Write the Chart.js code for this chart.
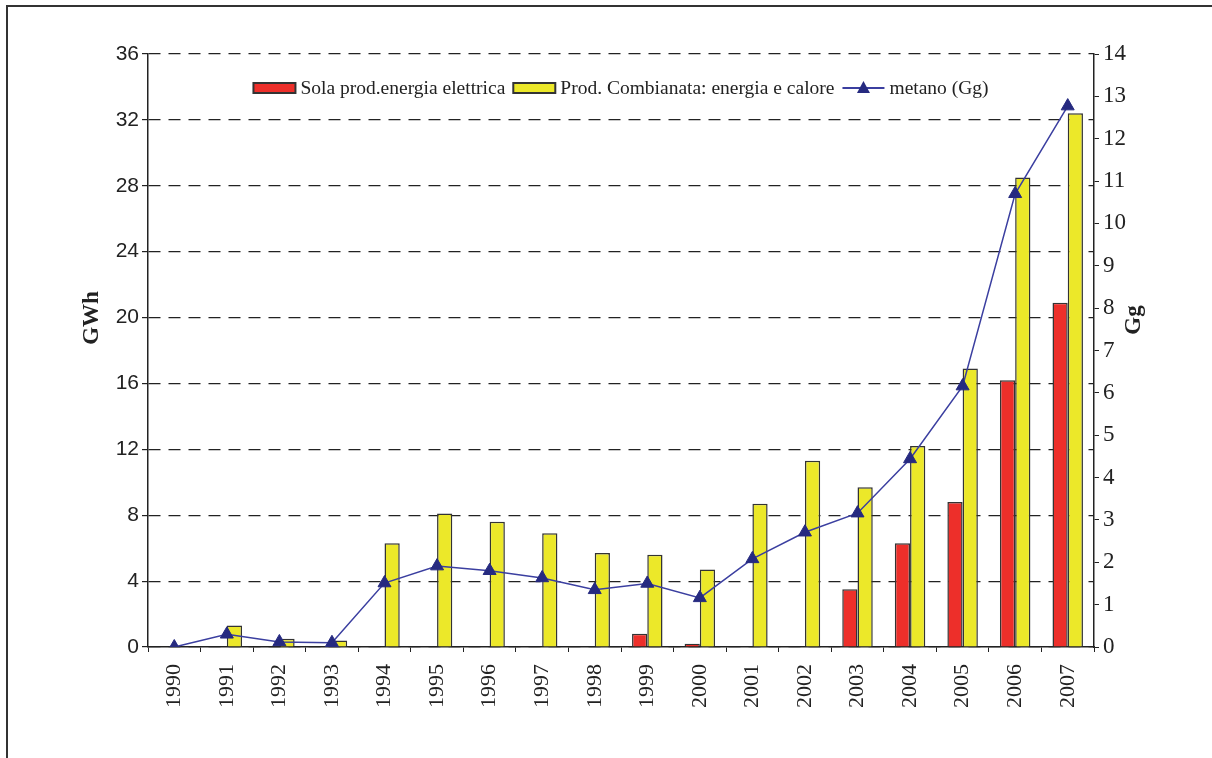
<!DOCTYPE html>
<html>
<head>
<meta charset="utf-8">
<script src="https://cdn.jsdelivr.net/npm/chart.js@4"></script>
<style>
  body { margin: 0; background: #fff; }
  canvas { display: block; }
</style>
</head>
<body>
<canvas id="metanoChart" width="1212" height="758"></canvas>
<script>
const years = ['1990', '1991', '1992', '1993', '1994', '1995', '1996', '1997', '1998',
               '1999', '2000', '2001', '2002', '2003', '2004', '2005', '2006', '2007'];

// GWh
const solaElettrica = [null, null, null, null, null, null, null, null, null,
                       0.8, 0.2, null, null, 3.5, 6.3, 8.8, 16.2, 20.9];
const prodCombinata = [null, 1.3, 0.5, 0.4, 6.3, 8.1, 7.6, 6.9, 5.7,
                       5.6, 4.7, 8.7, 11.3, 9.7, 12.2, 16.9, 28.5, 32.4];
// Gg
const metano = [0, 0.3, 0.12, 0.1, 1.51, 1.91, 1.8, 1.63, 1.35,
                1.5, 1.16, 2.08, 2.71, 3.16, 4.44, 6.16, 10.7, 12.77];

const gwhTicks = [0, 4, 8, 12, 16, 20, 24, 28, 32, 36];
const ggTicks = [0, 1, 2, 3, 4, 5, 6, 7, 8, 9, 10, 11, 12, 13, 14];

const serif = '"Liberation Serif", "Times New Roman", serif';
const sans = '"Liberation Sans", Arial, sans-serif';

// white page, frame lines and the two axis titles
const framePlugin = {
    id: 'frame',
    beforeDraw(chart) {
        const ctx = chart.ctx;
        ctx.save();
        ctx.fillStyle = '#fff';
        ctx.fillRect(0, 0, chart.width, chart.height);
        ctx.strokeStyle = '#333';
        ctx.lineWidth = 2;
        ctx.beginPath();
        ctx.moveTo(7, chart.height);
        ctx.lineTo(7, 6);
        ctx.lineTo(chart.width, 6);
        ctx.stroke();
        ctx.restore();
    },
    afterDraw(chart) {
        const ctx = chart.ctx;
        ctx.save();
        ctx.fillStyle = '#222';
        ctx.font = 'bold 23px ' + serif;
        ctx.textAlign = 'center';
        ctx.textBaseline = 'middle';

        ctx.translate(92, 318);
        ctx.rotate(-Math.PI / 2);
        ctx.fillText('GWh', 0, 0);
        ctx.restore();

        ctx.save();
        ctx.fillStyle = '#222';
        ctx.font = 'bold 23px ' + serif;
        ctx.textAlign = 'center';
        ctx.textBaseline = 'middle';
        ctx.translate(1134, 320);
        ctx.rotate(-Math.PI / 2);
        ctx.fillText('Gg', 0, 0);
        ctx.restore();
    }
};

// legend inside the plot, boxes for the bars and line+triangle for metano
const legendPlugin = {
    id: 'boxLegend',
    afterDraw(chart) {
        const ctx = chart.ctx;
        const area = chart.chartArea;
        const symW = 42;
        ctx.save();
        ctx.font = '19.5px ' + serif;
        const items = chart.data.datasets.map(ds => ({
            ds: ds,
            w: symW + 5 + ctx.measureText(ds.label).width
        }));
        const gap = 8;
        const total = items.reduce((s, it) => s + it.w, 0) + gap * (items.length - 1);
        let x = (area.left + area.right) / 2 - total / 2;
        const y = area.top + 34;

        items.forEach(it => {
            const ds = it.ds;
            if (ds.type === 'line') {
                ctx.strokeStyle = ds.borderColor;
                ctx.lineWidth = 2;
                ctx.beginPath();
                ctx.moveTo(x, y);
                ctx.lineTo(x + symW, y);
                ctx.stroke();
                ctx.fillStyle = ds.pointBackgroundColor;
                ctx.beginPath();
                ctx.moveTo(x + symW / 2, y - 7);
                ctx.lineTo(x + symW / 2 + 6.5, y + 5);
                ctx.lineTo(x + symW / 2 - 6.5, y + 5);
                ctx.closePath();
                ctx.fill();
            } else {
                ctx.fillStyle = ds.backgroundColor;
                ctx.fillRect(x, y - 5, symW, 10);
                ctx.strokeStyle = '#333';
                ctx.lineWidth = 2;
                ctx.strokeRect(x, y - 5, symW, 10);
            }
            ctx.fillStyle = '#222';
            ctx.textBaseline = 'middle';
            ctx.fillText(ds.label, x + symW + 5, y + 1);
            x += it.w + gap;
        });
        ctx.restore();
    }
};

const ctx = document.getElementById('metanoChart').getContext('2d');
const chart = new Chart(ctx, {
    data: {
        labels: years,
        datasets: [{
            type: 'bar',
            label: 'Sola prod.energia elettrica',
            data: solaElettrica,
            backgroundColor: '#ED2F2A',
            borderColor: '#333',
            borderWidth: 1.5,
            categoryPercentage: 0.58,
            barPercentage: 1,
            yAxisID: 'y',
            order: 1
        }, {
            type: 'bar',
            label: 'Prod. Combianata: energia e calore',
            data: prodCombinata,
            backgroundColor: '#ECE829',
            borderColor: '#333',
            borderWidth: 1.5,
            categoryPercentage: 0.58,
            barPercentage: 1,
            yAxisID: 'y',
            order: 1
        }, {
            type: 'line',
            label: 'metano (Gg)',
            data: metano,
            borderColor: '#3B3FA0',
            borderWidth: 1.5,
            pointStyle: 'triangle',
            pointRadius: 7.5,
            pointBackgroundColor: '#262A80',
            pointBorderColor: '#262A80',
            pointBorderWidth: 1,
            tension: 0,
            yAxisID: 'y1',
            order: 0
        }]
    },
    options: {
        responsive: false,
        animation: false,
        layout: {
            padding: { top: 54, left: 0, right: 0, bottom: 0 }
        },
        plugins: {
            legend: { display: false },
            tooltip: { enabled: false }
        },
        scales: {
            x: {
                offset: true,
                grid: {
                    offset: true,
                    drawOnChartArea: false,
                    color: '#222',
                    tickLength: 5
                },
                border: { color: '#222', width: 1.5 },
                ticks: {
                    autoSkip: false,
                    minRotation: 90,
                    maxRotation: 90,
                    padding: 12,
                    color: '#222',
                    font: { family: serif, size: 22 }
                },
                afterFit(scale) { scale.height = 111; }
            },
            y: {
                position: 'left',
                min: 0,
                max: 36,
                afterBuildTicks(scale) {
                    scale.ticks = gwhTicks.map(v => ({ value: v }));
                },
                grid: {
                    color: '#222',
                    lineWidth: 1.2,
                    tickLength: 6,
                    tickColor: '#222'
                },
                border: { color: '#222', width: 1.5, dash: [12, 8] },
                ticks: {
                    padding: 3,
                    color: '#222',
                    font: { family: sans, size: 21 }
                },
                afterFit(scale) { scale.width = 148; }
            },
            y1: {
                position: 'right',
                min: 0,
                max: 14,
                afterBuildTicks(scale) {
                    scale.ticks = ggTicks.map(v => ({ value: v }));
                },
                grid: {
                    drawOnChartArea: false,
                    color: '#222',
                    tickLength: 5
                },
                border: { color: '#222', width: 1.5 },
                ticks: {
                    padding: 4,
                    color: '#222',
                    font: { family: serif, size: 23 }
                },
                afterFit(scale) { scale.width = 118; }
            }
        }
    },
    plugins: [framePlugin, legendPlugin]
});
</script>
</body>
</html>
